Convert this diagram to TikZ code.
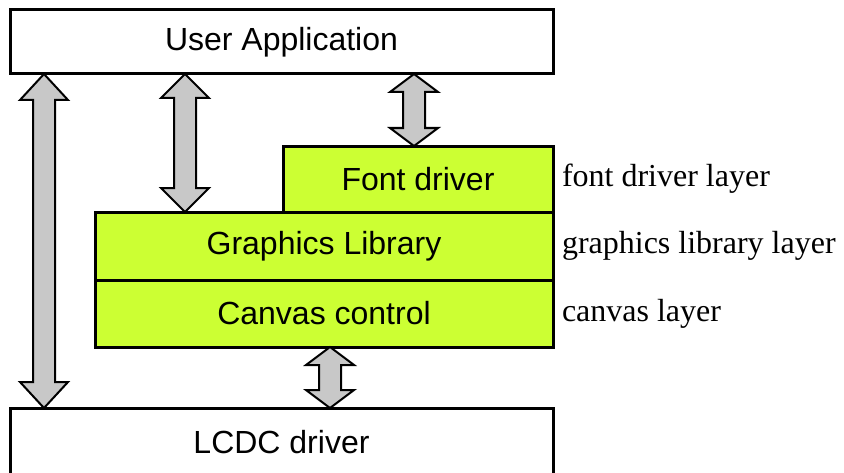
\documentclass[tikz,border=0pt]{standalone}
\usepackage{fontspec}
\setmainfont{Liberation Serif}
\setsansfont{Liberation Sans}
\usetikzlibrary{positioning,calc}

\definecolor{layergreen}{HTML}{CCFF33}
\definecolor{arrowgray}{HTML}{C8C8C8}

% fat two-headed arrow: [head length]{x position}{upper node}{lower node}
\newcommand{\biarrow}[4][11pt]{%
  \draw[fill=arrowgray, line width=1pt, line join=miter] let \p1=(#2), \p2=(#3.south), \p3=(#4.north) in
    (\x1,\y2) -- (\x1+12pt,\y2-#1) -- (\x1+5.5pt,\y2-#1) -- (\x1+5.5pt,\y3+#1) -- (\x1+12pt,\y3+#1)
    -- (\x1,\y3) -- (\x1-12pt,\y3+#1) -- (\x1-5.5pt,\y3+#1) -- (\x1-5.5pt,\y2-#1) -- (\x1-12pt,\y2-#1) -- cycle;}

\begin{document}
\begin{tikzpicture}[x=1pt, y=1pt, node distance=0pt, outer sep=0pt,
    endbox/.style={draw, line width=1.5pt, fill=white, minimum width=271.5pt, minimum height=32pt, font=\sffamily\fontsize{16}{19}\selectfont},
    layerbox/.style={draw, line width=1.5pt, fill=layergreen, minimum height=33pt, font=\sffamily\fontsize{16}{19}\selectfont},
    layerlabel/.style={inner sep=0pt, font=\fontsize{16}{19}\selectfont}]
    \useasboundingbox (0,0) rectangle (422,236);

    \node [endbox] (app) at (140.75,215) {User Application};
    \node [layerbox, minimum width=229pt, minimum height=34pt] (gfx) at (162,113) {Graphics Library};
    \node [layerbox, minimum width=135pt, above=0pt of gfx.north east, anchor=south east] (font) {Font driver};
    \node [layerbox, minimum width=229pt, minimum height=33.5pt, below=of gfx] (canvas) {Canvas control};
    \node [endbox, minimum height=34pt] (lcdc) at (140.75,15) {LCDC driver};

    \node [layerlabel, right=4.5pt of font] (fontlbl) {font driver layer};
    \node [layerlabel, right=4.5pt of gfx] (gfxlbl) {graphics library layer};
    \node [layerlabel, right=4.5pt of canvas] (canvaslbl) {canvas layer};

    \coordinate (a1) at (22,0);
    \coordinate (a2) at (92.5,0);
    \coordinate (a3) at (207,0);
    \coordinate (a4) at (165,0);
    \biarrow[13pt]{a1}{app}{lcdc}
    \biarrow[12pt]{a2}{app}{gfx}
    \biarrow[9pt]{a3}{app}{font}
    \biarrow[9pt]{a4}{canvas}{lcdc}
\end{tikzpicture}
\end{document}
